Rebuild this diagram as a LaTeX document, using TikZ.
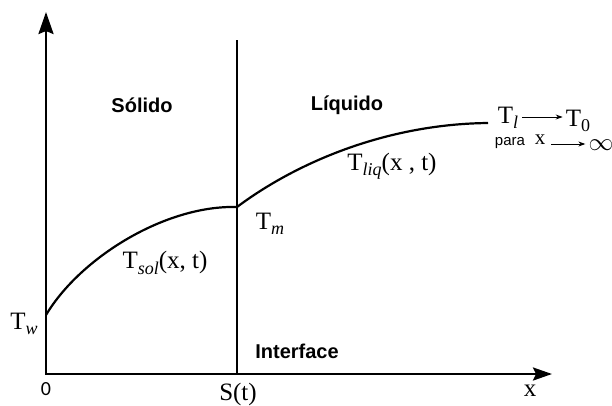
\documentclass[tikz,border=0pt]{standalone}
\usepackage{fontspec}
\newfontfamily\arial{Liberation Sans}
\newfontfamily\tnr{Liberation Serif}
\newfontfamily\calib{Carlito}
\newcommand{\lowsub}[1]{\raisebox{-0.22em}{\fontsize{18}{20}\selectfont\itshape #1}}
\newcommand{\lowsubup}[1]{\raisebox{-0.22em}{\fontsize{18}{20}\selectfont #1}}
\usetikzlibrary{arrows.meta}
\tikzset{
  axes/.style={line width=2.5pt},
  curve/.style={line width=2.2pt},
  region/.style={font=\arial\bfseries\fontsize{20}{24}\selectfont, inner sep=0pt},
  tlabel/.style={font=\tnr\fontsize{25}{28}\selectfont, inner sep=0pt},
  smalltext/.style={font=\arial\fontsize{15}{18}\selectfont, inner sep=0pt},
  thinarrow/.style={line width=1pt, -{Stealth[length=7pt,width=5pt]}}
}
\begin{document}
\begin{tikzpicture}[x=1pt,y=-1pt]
\useasboundingbox (0,0) rectangle (612,405);
% axes
\coordinate (ytop) at (46,12);
\coordinate (O) at (46,374);
\coordinate (xend) at (552,374);
\draw[axes, {Stealth[length=22pt,width=15pt,inset=3pt]}-{Stealth[length=19pt,width=13pt,inset=3pt]}] (ytop) -- (O) -- (xend);
% interface
\coordinate (itop) at (237,40);
\coordinate (ibot) at (237,374);
\draw[axes] (itop) -- (ibot);
% curves
\coordinate (w) at (46,315);
\coordinate (m) at (237,207);
\coordinate (inf) at (488,123);
\draw[curve] (w) .. controls (80,258) and (165,205) .. (m);
\draw[curve] (m) .. controls (300,160) and (390,124) .. (inf);
% region labels
\node[region] (sol) at (142,105) {Sólido};
\node[region] (liq) at (347,105) {Líquido};
\node[region] (intf) at (297,351) {Interface};
% temperature labels
\node[tlabel] (tw) at (24,324) {T\lowsub{w}};
\node[tlabel] (tm) at (270,224) {T\lowsub{m}};
\node[tlabel] (tsol) at (165,263) {T\lowsub{sol}(x, t)};
\node[tlabel] (tliq) at (392,166) {T\lowsub{liq}(x , t)};
\node[tlabel] (tl) at (508,118) {T\lowsub{l}};
\node[tlabel] (t0) at (578,121) {T\lowsubup{0}};
\draw[thinarrow] (tl.east) ++(4,-1) coordinate (a1) -- ([xshift=-3pt]t0.west |- a1);
\node[smalltext] (para) at (510,143) {para};
\node[tlabel, font=\tnr\fontsize{21}{22}\selectfont] (xx) at (540,140) {x};
\node[tlabel] (infty) at (601,145) {$\infty$};
\draw[thinarrow] ([xshift=6pt]xx.east |- 0,144) coordinate (a2) -- ([xshift=-3pt]infty.west |- a2);
% axis labels
\node[tlabel, font=\calib\fontsize{20}{22}\selectfont] (zero) at (46,389) {0};
\node[tlabel] (st) at (238,394) {S(t)};
\node[tlabel] (xl) at (530,391) {x};
\end{tikzpicture}
\end{document}
